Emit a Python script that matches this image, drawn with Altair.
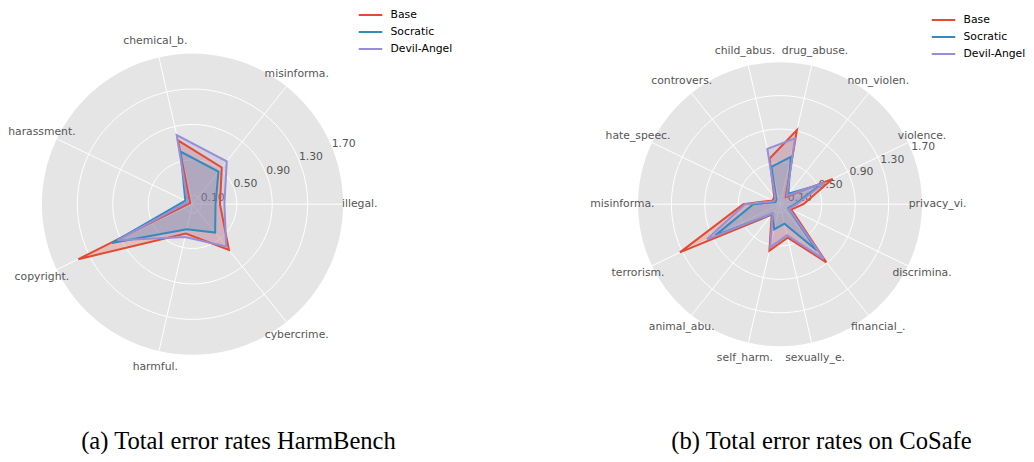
import altair as alt
import pandas as pd

# ---------------- data ----------------
series = ["Base", "Socratic", "Devil-Angel"]
series_colors = ["#E24A33", "#348ABD", "#988ED5"]

hb_categories = ["illegal.", "misinforma.", "chemical_b.", "harassment.",
                 "copyright.", "harmful.", "cybercrime."]
hb_base = [0.31, 0.53, 0.74, 0.03, 1.43, 0.34, 0.66]
hb_socratic = [0.26, 0.47, 0.61, 0.09, 1.01, 0.29, 0.41]
hb_devil = [0.36, 0.62, 0.80, 0.06, 0.94, 0.38, 0.61]

cs_categories = ["privacy_vi.", "violence.", "non_violen.", "drug_abuse.",
                 "child_abus.", "controvers.", "hate_speec.", "misinforma.",
                 "terrorism.", "animal_abu.", "self_harm.", "sexually_e.",
                 "financial_.", "discrimina."]
cs_base = [0.28, 0.70, 0.11, 0.91, 0.56, 0.11, 0.10, 0.44, 1.33, 0.16, 0.57, 0.41, 0.89, 0.15]
cs_socratic = [0.18, 0.55, 0.16, 0.58, 0.46, 0.07, 0.06, 0.32, 0.86, 0.15, 0.31, 0.24, 0.71, 0.11]
cs_devil = [0.20, 0.60, 0.13, 0.81, 0.68, 0.09, 0.08, 0.42, 0.97, 0.14, 0.53, 0.38, 0.84, 0.12]

r_ticks = [0.10, 0.50, 0.90, 1.30, 1.70]
r_max = 1.70

captions = ["(a) Total error rates HarmBench", "(b) Total error rates on CoSafe"]

# ---------------- style / layout ----------------
PANEL_W = 509
VIEW_H = 420
BG = "#E5E5E5"
TXT = "#555555"
FONT = "DejaVu Sans"
LABEL_R = 1.887          # radius (data units) of category labels
TICK_ANGLE = 22.5        # degrees, radial tick label direction
N_RING = 120


def radar(categories, values, center, radius_px, legend_xy, caption, caption_dx):
    n = len(categories)
    k = radius_px / r_max
    cx, cy = center
    xs = alt.Scale(domain=[-cx / k, (PANEL_W - cx) / k], nice=False, zero=False)
    ys = alt.Scale(domain=[-(VIEW_H - cy) / k, cy / k], nice=False, zero=False)

    def X(f):
        return alt.X(f, type="quantitative", scale=xs, axis=None)

    def Y(f):
        return alt.Y(f, type="quantitative", scale=ys, axis=None)

    rows = []
    for s, vals in zip(series, values):
        for i, (c, v) in enumerate(zip(categories, vals)):
            rows.append({"series": s, "cat": c, "idx": i, "value": v})
    df = pd.DataFrame(rows)
    cat_df = pd.DataFrame({"cat": categories, "idx": list(range(n))})

    ring_df = pd.DataFrame([{"r": t, "step": j} for t in r_ticks for j in range(N_RING)])
    ring_calc = dict(a=f"2*PI*datum.step/{N_RING}",
                     px="datum.r*cos(datum.a)", py="datum.r*sin(datum.a)")

    disc = alt.Chart(ring_df).transform_filter(f"datum.r == {r_max}").transform_calculate(
        **ring_calc).mark_line(interpolate="linear-closed", fill=BG, strokeWidth=0
    ).encode(x=X("px"), y=Y("py"), order="step:Q")

    rings = alt.Chart(ring_df).transform_filter(f"datum.r < {r_max}").transform_calculate(
        **ring_calc).mark_line(interpolate="linear-closed", stroke="white", strokeWidth=1
    ).encode(x=X("px"), y=Y("py"), detail="r:N", order="step:Q")

    spokes = alt.Chart(cat_df).transform_calculate(
        t=f"2*PI*datum.idx/{n}", x0="0", y0="0",
        px=f"{r_max}*cos(datum.t)", py=f"{r_max}*sin(datum.t)"
    ).mark_rule(stroke="white", strokeWidth=1).encode(
        x=X("x0"), y=Y("y0"), x2="px:Q", y2="py:Q")

    cat_labels = alt.Chart(cat_df).transform_calculate(
        t=f"2*PI*datum.idx/{n}",
        px=f"{LABEL_R}*cos(datum.t)", py=f"{LABEL_R}*sin(datum.t)"
    ).mark_text(font=FONT, fontSize=10.8, color=TXT, align="center", baseline="middle"
    ).encode(x=X("px"), y=Y("py"), text="cat:N")

    tick_df = pd.DataFrame({"r": r_ticks})
    tick_labels = alt.Chart(tick_df).transform_calculate(
        t=f"PI*{TICK_ANGLE}/180",
        px="datum.r*cos(datum.t)", py="datum.r*sin(datum.t)",
        lab="format(datum.r, '.2f')"
    ).mark_text(font=FONT, fontSize=10.8, color=TXT, align="left", baseline="alphabetic"
    ).encode(x=X("px"), y=Y("py"), text="lab:N")

    poly_calc = dict(t=f"2*PI*datum.idx/{n}",
                     px="datum.value*cos(datum.t)", py="datum.value*sin(datum.t)")

    legend = alt.Legend(
        orient="none", legendX=legend_xy[0], legendY=legend_xy[1], title=None,
        symbolType="M-2,0H2", symbolSize=138, symbolStrokeWidth=2,
        labelFont=FONT, labelFontSize=10.8, labelColor="black",
        labelOffset=13, rowPadding=5, padding=0)
    cscale = alt.Scale(domain=series, range=series_colors)

    fills = []
    lines = []
    for s, c in zip(series, series_colors):
        fills.append(
            alt.Chart(df).transform_filter(alt.datum.series == s).transform_calculate(**poly_calc)
            .mark_line(interpolate="linear-closed", fill=c, fillOpacity=0.25, strokeWidth=0)
            .encode(x=X("px"), y=Y("py"), order="idx:Q"))
        lines.append(
            alt.Chart(df).transform_filter(alt.datum.series == s).transform_calculate(**poly_calc)
            .mark_line(interpolate="linear-closed", strokeWidth=2)
            .encode(x=X("px"), y=Y("py"), order="idx:Q",
                    color=alt.Color("series:N", scale=cscale, legend=legend)))

    return alt.layer(disc, rings, spokes, cat_labels, tick_labels, *fills, *lines).properties(
        width=PANEL_W, height=VIEW_H,
        title=alt.TitleParams(caption, orient="bottom", anchor="middle", dx=caption_dx,
                              offset=21, baseline="alphabetic", font="Liberation Serif",
                              fontSize=24.6, fontWeight="normal", color="black"))


panel_a = radar(hb_categories, [hb_base, hb_socratic, hb_devil],
                center=(184.5, 196.2), radius_px=150.6,
                legend_xy=(355.5, 0), caption=captions[0], caption_dx=-24)
panel_b = radar(cs_categories, [cs_base, cs_socratic, cs_devil],
                center=(263.0, 196.2), radius_px=142.0,
                legend_xy=(419.5, 5), caption=captions[1], caption_dx=50)

chart = alt.hconcat(panel_a, panel_b, spacing=0).resolve_scale(
    color="independent").resolve_legend(color="independent").configure_view(
    stroke=None).properties(padding=0, background="white")

chart.save("out.html", embed_options={"renderer": "svg", "actions": False})
